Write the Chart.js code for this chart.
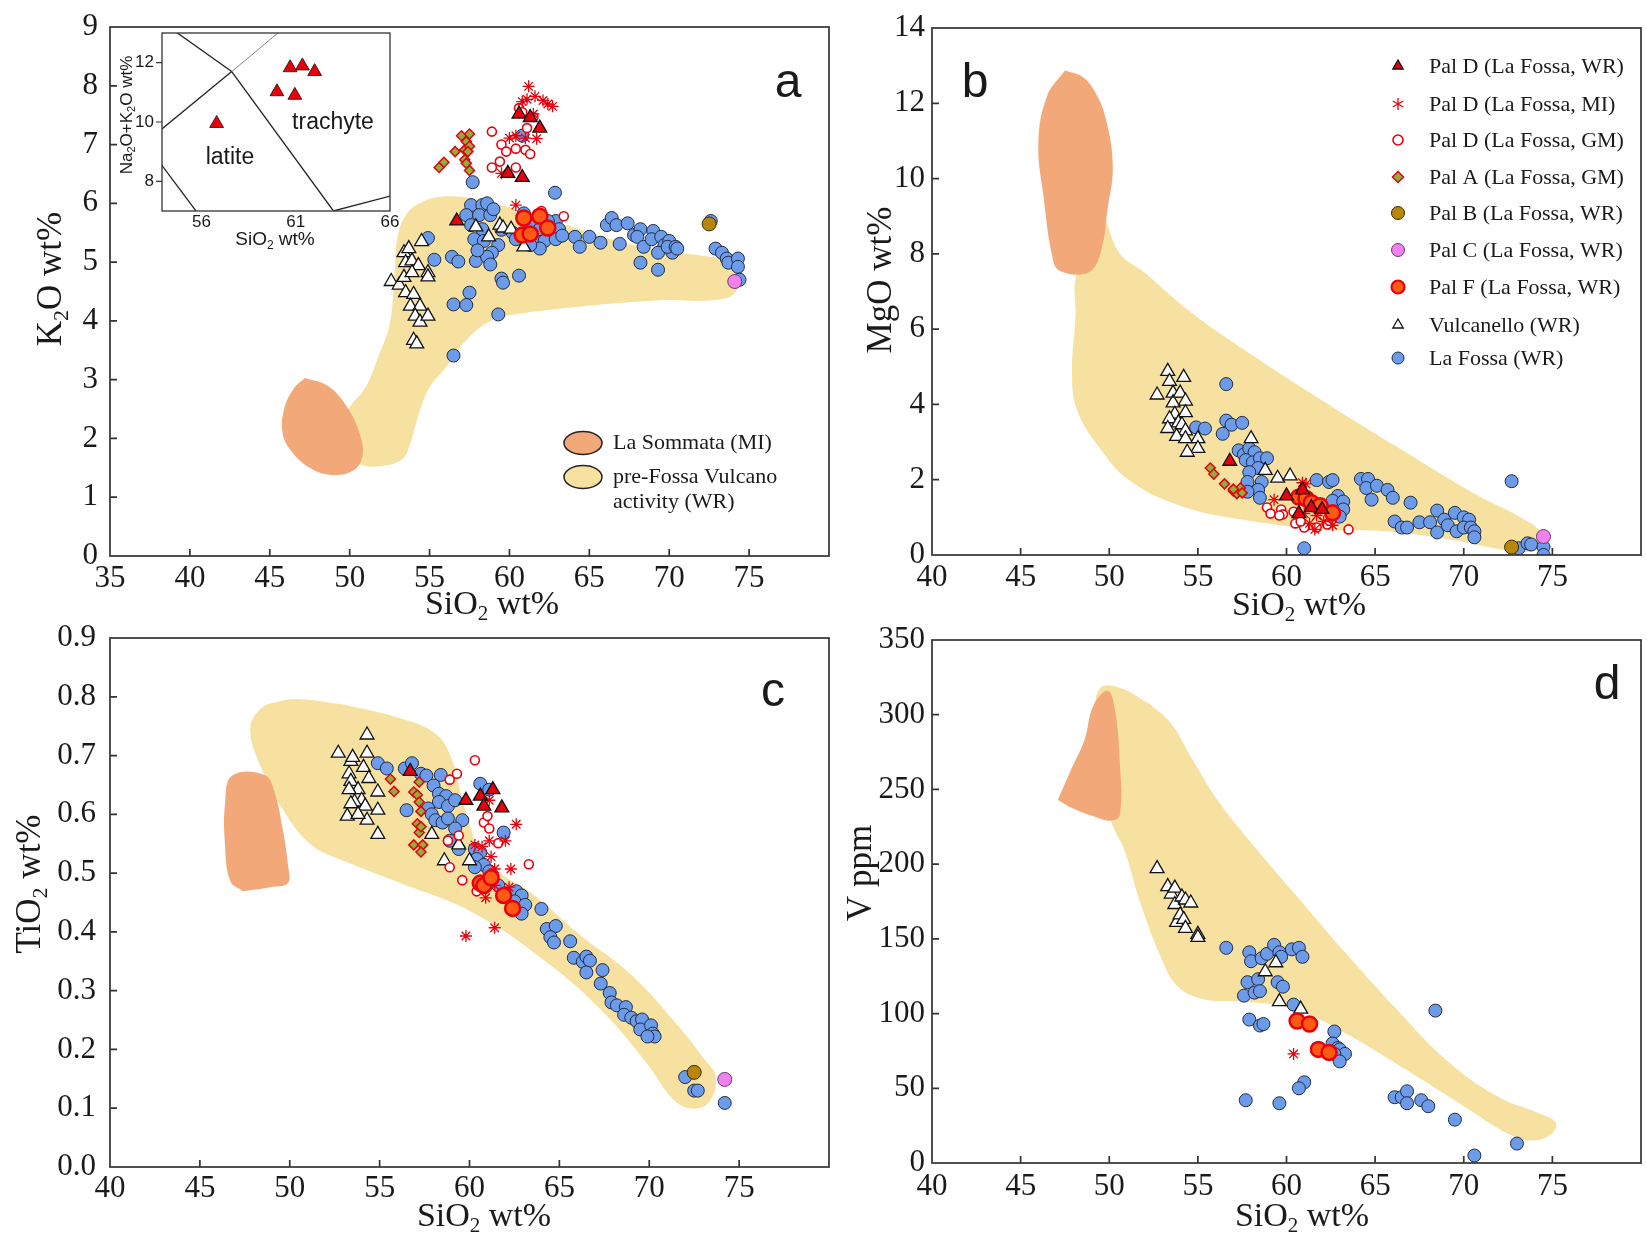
<!DOCTYPE html>
<html>
<head>
<meta charset="utf-8">
<script src="https://cdn.jsdelivr.net/npm/chart.js@4.4.1/dist/chart.umd.min.js"></script>
<style>
    html, body { margin: 0; padding: 0; background: #fff; overflow: hidden; width: 1647px; height: 1238px; }
    canvas { position: absolute; }
    .fontwarm { position: absolute; left: -1000px; top: -1000px; font-size: 30px; }
</style>
</head>
<body>
<span class="fontwarm" style="font-family: 'Liberation Serif'">0123456789 SiO wt%</span>
<span class="fontwarm" style="font-family: 'Liberation Sans'">0123456789 abc</span>
<canvas id="chartA"></canvas>
<canvas id="chartB"></canvas>
<canvas id="chartC"></canvas>
<canvas id="chartD"></canvas>
<canvas id="chartInset"></canvas>
<script>
// ================= DATA : panel a (K2O vs SiO2) =================
const aTicksX = [35, 40, 45, 50, 55, 60, 65, 70, 75];
const aTicksY = [0, 1, 2, 3, 4, 5, 6, 7, 8, 9];

const aFieldPreFossa = [[61.3,4.15],[64.6,4.25],[69.5,4.35],[73.5,4.38],[74.4,4.62],[74.3,5.02],[72.5,5.09],[67.8,5.29],[63.9,5.6],[61.3,5.83],[57.9,6.07],[56.0,6.12],[54.6,6.03],[53.6,5.83],[53.0,5.43],[52.8,4.75],[52.5,3.94],[51.8,3.4],[51.0,2.87],[50.0,2.53],[49.5,2.2],[49.6,1.7],[50.7,1.55],[52.0,1.53],[53.3,1.65],[53.8,1.92],[54.3,2.39],[55.0,2.87],[56.0,3.2],[57.3,3.67],[58.9,4.01],[61.3,4.15]];
const aFieldLaSommata = [[47.2,3.03],[46.5,2.85],[45.9,2.5],[45.8,2.1],[46.3,1.8],[47.5,1.5],[48.8,1.38],[50.2,1.45],[50.8,1.7],[50.6,2.1],[49.8,2.55],[48.6,2.9],[47.2,3.03]];

const aLaFossa = [[57.7,6.36],[62.85,6.18],[57.6,5.97],[58.3,5.97],[58.6,6.0],[57.3,5.8],[58.1,5.8],[58.8,5.8],[57.6,5.63],[58.3,5.56],[57.8,5.39],[58.4,5.36],[59.3,5.29],[58.9,5.16],[57.9,5.02],[58.6,5.09],[58.8,4.96],[59.5,4.72],[59.6,4.65],[60.6,4.77],[57.5,4.48],[56.5,4.28],[57.3,4.27],[59.3,4.11],[56.5,3.41],[55.3,5.04],[54.9,5.41],[56.4,5.09],[56.8,5.01],[59.0,5.9],[59.5,5.55],[60.2,5.5],[58.0,5.2],
    [60.9,5.83],[61.3,5.63],[61.9,5.56],[62.6,5.56],[62.9,5.7],[63.1,5.56],[60.8,5.43],[60.4,5.39],[61.6,5.36],[62.2,5.36],[62.9,5.39],[61.9,5.23],[61.3,5.29],[60.8,7.15],[62.4,5.7],[63.3,5.45],
    [64.1,5.43],[64.4,5.26],[65.0,5.43],[65.7,5.33],[66.1,5.63],[66.4,5.75],[66.7,5.63],[66.9,5.31],[67.4,5.66],[67.8,5.46],[68.2,5.56],[68.0,5.43],[68.4,5.26],[68.2,4.99],[69.0,5.53],[68.9,5.39],[69.5,5.43],[69.7,5.29],[69.3,5.16],[70.0,5.36],[70.2,5.16],[69.9,5.26],[70.4,5.26],[70.5,5.23],[69.3,4.87],
    [72.9,5.23],[73.3,5.16],[73.6,5.06],[73.7,4.99],[74.3,5.06],[74.3,4.92],[74.4,4.7],[72.6,5.7]];
const aVulcanello = [[52.6,4.67],[53.1,4.61],[53.4,5.16],[53.7,5.23],[53.5,4.99],[53.9,5.02],[53.4,4.74],[54.3,4.94],[53.9,4.82],[53.5,4.48],[54.0,4.45],[53.8,4.25],[54.4,4.25],[54.1,4.08],[54.4,3.98],[54.9,4.08],[54.0,3.67],[54.2,3.61],[54.5,5.35],[54.9,4.82],[54.9,4.75],[57.9,5.6],[58.7,5.43],[59.4,5.63],[59.6,5.58],[60.1,5.56],[60.9,5.26]];
const aPalDWR = [[56.7,5.7],[59.9,6.51],[60.8,6.44],[60.6,7.52],[61.3,7.46],[61.9,7.28]];
const aPalDMI = [[61.2,7.99],[60.8,7.73],[61.1,7.77],[61.6,7.82],[62.1,7.75],[62.4,7.69],[62.7,7.65],[61.5,7.52],[60.0,7.11],[60.4,7.15],[61.0,7.11],[61.7,7.1],[59.5,6.51],[60.4,5.97]];
const aPalDGM = [[58.9,7.22],[59.5,7.0],[59.8,6.88],[59.4,6.71],[60.4,6.93],[60.6,7.62],[61.5,7.47],[61.1,7.28],[61.0,6.91],[61.3,6.84],[58.9,6.61],[60.4,6.61],[60.8,7.55],[62.0,5.87],[63.4,5.78]];
const aPalA = [[55.6,6.61],[55.9,6.7],[56.6,6.88],[57.0,7.15],[57.5,7.18],[57.3,7.05],[57.2,6.91],[57.5,6.97],[57.4,6.88],[57.2,6.74],[57.3,6.68],[57.5,6.56]];
const aPalB = [[72.5,5.65]];
const aPalC = [[74.1,4.67]];
const aPalF = [[60.9,5.75],[61.9,5.78],[60.8,5.46],[61.3,5.48],[62.4,5.58]];

// ================= DATA : inset (TAS) =================
const insetTicksX = [56, 61, 66];
const insetTicksY = [8, 10, 12];
const insetPalD = [[56.8,9.95],[60.7,11.83],[61.35,11.89],[62.0,11.7],[60.0,11.02],[60.95,10.9]];
const tasPhonolite = [[52.5,14],[57.6,11.7]];
const tasTrachyandesite = [[53,9.3],[57.6,11.7]];
const tasUpper = [[57.6,11.7],[61,13.5]];
const tasTrachyte = [[57.6,11.7],[63,7]];
const tasDacite = [[63,7],[69,8]];
const tasBasalticTA = [[53,9.3],[57,5.9]];

// ================= DATA : panel b (MgO vs SiO2) =================
const bTicksX = [40, 45, 50, 55, 60, 65, 70, 75];
const bTicksY = [0, 2, 4, 6, 8, 10, 12, 14];

const bFieldLaSommata = [[47.5,12.87],[48.5,12.7],[49.2,12.3],[49.8,11.6],[50.2,10.33],[49.9,9.18],[49.5,8.0],[48.8,7.5],[47.2,7.55],[46.8,7.9],[46.3,9.5],[46.0,10.96],[46.5,12.2],[47.5,12.87]];
const bFieldPreFossa = [[49.8,8.9],[50.6,8.0],[52.0,7.5],[54.6,6.45],[58.1,5.3],[61.9,4.14],[66.2,2.88],[70.6,1.63],[73.2,1.0],[74.5,0.52],[74.3,0.16],[72.9,0.1],[69.1,0.42],[65.6,0.63],[61.9,0.68],[57.5,0.94],[54.0,1.31],[51.1,1.99],[49.4,2.88],[48.2,3.83],[47.9,4.77],[48.1,6.34],[48.2,7.5],[49.4,7.92],[49.8,8.9]];

const bLaFossa = [[56.6,4.54],[56.6,3.57],[56.9,3.46],[56.4,3.22],[54.9,3.39],[55.4,3.36],[57.5,3.51],[57.3,2.78],[57.6,2.67],[57.9,2.83],[58.2,2.73],[57.7,2.52],[58.1,2.46],[58.5,2.57],[58.9,2.57],[58.4,2.31],[57.9,2.2],[57.8,1.94],[58.6,1.94],[58.4,1.73],[57.8,1.68],[58.5,1.52],[61.7,1.99],[62.4,1.94],[62.6,1.99],[62.9,1.57],[62.6,1.44],[63.2,1.42],[63.2,1.21],[63.0,1.02],[64.2,2.02],[64.6,2.02],[64.5,1.78],[65.1,1.84],[65.7,1.73],[66.0,1.52],[64.8,1.47],[67.0,1.39],[66.1,0.89],[66.5,0.73],[66.8,0.73],[67.5,0.87],[68.1,0.87],[68.5,1.18],[68.5,0.6],[68.9,0.94],[69.1,0.79],[69.5,1.12],[69.6,0.63],[70.0,1.0],[70.3,0.94],[70.0,0.73],[70.4,0.73],[70.6,0.63],[70.6,0.47],[72.7,1.96],[73.1,0.18],[73.6,0.31],[73.8,0.28],[74.5,0.21],[74.5,0.0],[61.0,0.18]];
const bVulcanello = [[52.7,4.25],[53.3,4.88],[53.4,4.61],[53.6,4.3],[53.6,4.04],[54.2,4.72],[54.0,4.3],[54.3,4.09],[53.7,3.74],[54.3,3.78],[53.4,3.62],[53.9,3.51],[53.3,3.36],[54.1,3.46],[54.3,3.3],[53.8,3.15],[54.3,3.09],[55.0,3.09],[55.0,2.83],[54.4,2.73],[58.0,3.09],[58.8,2.25],[59.5,2.04],[60.2,2.1]];
const bPalDWR = [[56.8,2.49],[60.0,1.57],[60.9,1.73],[60.7,1.1],[61.4,1.26],[62.0,1.21]];
const bPalDMI = [[59.3,1.47],[60.9,1.92],[61.1,1.89],[61.3,0.84],[61.6,0.68],[62.1,0.89],[62.6,0.79],[61.0,1.1],[61.7,1.05]];
const bPalDGM = [[58.9,1.26],[59.1,1.1],[59.7,1.21],[59.8,1.08],[60.5,0.84],[61.0,0.73],[60.8,0.89],[60.4,1.15],[61.7,0.73],[62.3,0.81],[63.5,0.68],[59.6,1.05]];
const bPalA = [[55.7,2.31],[55.9,2.15],[56.5,1.89],[57.0,1.7],[57.2,1.63],[57.4,1.78],[57.5,1.65],[57.0,1.75]];
const bPalB = [[72.7,0.21]];
const bPalC = [[74.5,0.49]];
const bPalF = [[60.7,1.54],[61.1,1.5],[61.4,1.39],[61.9,1.31],[62.6,1.12]];

// ================= DATA : panel c (TiO2 vs SiO2) =================
const cTicksX = [40, 45, 50, 55, 60, 65, 70, 75];
const cTicksY = [0, 0.1, 0.2, 0.3, 0.4, 0.5, 0.6, 0.7, 0.8, 0.9];

const cFieldLaSommata = [[47.4,0.469],[46.7,0.486],[46.4,0.548],[46.4,0.618],[46.8,0.666],[48.6,0.667],[49.15,0.638],[49.6,0.576],[49.9,0.514],[49.9,0.483],[48.9,0.476],[47.4,0.469]];
const cFieldPreFossa = [[53.0,0.787],[56.2,0.763],[58.2,0.735],[59.1,0.687],[59.5,0.638],[60.0,0.583],[60.6,0.535],[61.7,0.5],[63.5,0.465],[66.1,0.396],[69.0,0.327],[71.7,0.237],[73.1,0.182],[73.7,0.154],[73.4,0.113],[72.5,0.099],[71.4,0.113],[69.9,0.175],[67.6,0.258],[64.6,0.341],[60.3,0.431],[55.9,0.486],[53.0,0.521],[51.2,0.548],[49.7,0.604],[48.4,0.68],[47.8,0.745],[48.4,0.78],[49.4,0.792],[50.6,0.796],[53.0,0.787]];

const cLaFossa = [[54.9,0.687],[55.4,0.678],[56.4,0.678],[56.8,0.687],[56.5,0.607],[57.3,0.669],[57.6,0.666],[58.4,0.667],[58.0,0.649],[58.3,0.635],[58.7,0.631],[58.3,0.621],[58.8,0.614],[59.2,0.624],[57.7,0.61],[57.9,0.6],[58.1,0.59],[58.5,0.586],[58.8,0.593],[59.6,0.59],[59.2,0.576],[58.9,0.555],[59.4,0.541],[60.3,0.541],[60.6,0.535],[60.4,0.524],[60.8,0.514],[60.3,0.51],[61.1,0.503],[60.6,0.652],[61.1,0.642],[61.9,0.569],[61.6,0.479],[62.0,0.465],[62.6,0.469],[62.9,0.462],[62.5,0.452],[63.1,0.446],[62.9,0.431],[64.0,0.439],[64.3,0.405],[64.8,0.41],[64.5,0.391],[64.7,0.382],[65.6,0.384],[65.8,0.356],[66.3,0.349],[66.5,0.358],[66.7,0.351],[66.5,0.331],[67.4,0.335],[67.3,0.312],[67.8,0.296],[67.9,0.28],[68.2,0.275],[68.7,0.272],[68.6,0.259],[69.0,0.254],[69.3,0.248],[69.6,0.251],[69.5,0.234],[70.1,0.241],[70.2,0.227],[70.3,0.222],[69.9,0.222],[72.0,0.153],[72.5,0.13],[72.7,0.13],[74.2,0.109]];
const cVulcanello = [[52.7,0.704],[53.4,0.69],[53.5,0.697],[54.3,0.735],[54.3,0.704],[53.3,0.669],[54.1,0.68],[53.4,0.656],[54.4,0.661],[53.8,0.642],[53.3,0.642],[54.0,0.624],[53.6,0.621],[54.2,0.614],[53.4,0.618],[54.9,0.638],[54.9,0.607],[54.3,0.59],[53.2,0.597],[53.8,0.6],[54.9,0.566],[57.9,0.566],[58.6,0.521],[59.4,0.548],[60.0,0.521]];
const cPalDWR = [[56.7,0.673],[59.8,0.624],[60.6,0.631],[61.3,0.642],[60.8,0.614],[61.8,0.611]];
const cPalDMI = [[61.1,0.624],[60.3,0.548],[60.7,0.545],[61.1,0.555],[62.0,0.555],[62.6,0.583],[61.2,0.528],[61.4,0.507],[62.3,0.507],[61.4,0.479],[60.9,0.458],[62.2,0.476],[59.8,0.393],[61.4,0.407]];
const cPalDGM = [[60.3,0.692],[59.3,0.669],[58.9,0.659],[58.8,0.555],[59.4,0.564],[58.9,0.51],[59.6,0.488],[60.4,0.469],[60.8,0.586],[61.1,0.576],[61.0,0.597],[61.6,0.551],[63.3,0.515]];
const cPalA = [[55.6,0.66],[55.8,0.639],[56.9,0.638],[57.1,0.633],[57.2,0.621],[57.3,0.605],[57.1,0.584],[57.2,0.569],[57.3,0.579],[56.9,0.548],[57.4,0.548],[57.3,0.536],[57.2,0.655]];
const cPalB = [[72.5,0.161]];
const cPalC = [[74.2,0.149]];
const cPalF = [[60.6,0.483],[60.8,0.479],[61.2,0.492],[61.9,0.462],[62.4,0.44]];

// ================= DATA : panel d (V vs SiO2) =================
const dTicksX = [40, 45, 50, 55, 60, 65, 70, 75];
const dTicksY = [0, 50, 100, 150, 200, 250, 300, 350];

const dFieldLaSommata = [[47.1,243],[47.8,262],[48.6,283],[49.1,306],[49.9,316],[50.3,305],[50.6,267],[50.6,233],[50.1,229],[49.1,232],[48.0,237],[47.1,243]];
const dFieldPreFossa = [[52.3,307],[53.5,294],[54.6,272],[56.1,243],[58.1,213],[60.4,181],[63.3,141],[66.2,103],[69.1,68],[72.0,44],[74.3,33],[75.2,27],[74.9,19],[73.9,15],[72.6,19],[70.0,38],[66.8,62],[63.3,87],[60.4,103],[57.5,108],[55.2,110],[53.8,119],[52.9,138],[51.7,176],[50.9,208],[50.1,229],[49.4,267],[49.2,300],[49.5,318],[50.6,318],[52.3,307]];

const dLaFossa = [[56.6,144],[57.9,141],[58.0,135],[58.6,137],[58.9,140],[59.3,146],[59.6,141],[59.7,138],[60.3,143],[60.7,144],[60.9,138],[57.8,121],[58.4,123],[59.5,121],[59.8,118],[57.6,112],[58.2,114],[58.5,115],[60.4,106],[57.9,96],[58.5,92],[58.7,93],[62.7,88],[62.6,80],[62.9,77],[63.0,76],[63.3,73],[62.7,73],[63.0,68],[68.4,102],[61.0,54],[60.7,50],[57.7,42],[59.6,40],[66.1,44],[66.5,44],[66.8,48],[66.8,40],[67.6,42],[68.0,38],[69.5,29],[70.6,5],[73.0,13]];
const dVulcanello = [[52.7,197],[53.3,185],[53.5,180],[53.7,184],[53.7,173],[53.8,161],[54.0,166],[54.1,178],[54.3,176],[54.6,174],[54.2,163],[54.3,157],[55.0,153],[55.0,151],[58.8,128],[59.4,134],[59.6,108],[60.8,103]];
const dPalDMI = [[60.4,73]];
const dPalF = [[60.6,95],[61.3,93],[61.8,76],[62.4,74]];

// ================= STYLES =================
const TEXT = "#1a1a1a";
const FRAME = "#333333";
const SERIF = "Liberation Serif";
const SANS = "Liberation Sans";
const YELLOW = "#f6e1a0";
const ORANGE = "#f2a878";

const STYLES = {
    laFossa:    { ps: "circle",   r: 6.5, bg: "#6b9be9", bc: "#222c44", bw: 1 },
    vulcanello: { ps: "triangle", r: 8,   bg: "#ffffff", bc: "#111111", bw: 1.3 },
    palDWR:     { ps: "triangle", r: 8,   bg: "#e8000c", bc: "#111111", bw: 1.3 },
    palDMI:     { ps: "star",     r: 6,   bg: "#e8000c", bc: "#e8000c", bw: 1.3 },
    palDGM:     { ps: "circle",   r: 4.5, bg: "#ffffff", bc: "#e8000c", bw: 1.6 },
    palA:       { ps: "rectRot",  r: 5,   bg: "#8bb03c", bc: "#e8000c", bw: 1.5 },
    palB:       { ps: "circle",   r: 7,   bg: "#b8860b", bc: "#3a2a00", bw: 1 },
    palC:       { ps: "circle",   r: 7,   bg: "#f280f0", bc: "#6a3a6a", bw: 1 },
    palF:       { ps: "circle",   r: 7.5, bg: "#ff5a14", bc: "#e8000c", bw: 2.5 }
};

// ================= HELPERS =================
function pts(arr) {
    return arr.map(p => ({ x: p[0], y: p[1] }));
}

function series(arr, st, order) {
    return {
        type: "scatter",
        data: pts(arr),
        pointStyle: st.ps,
        pointRadius: st.r,
        pointHoverRadius: st.r,
        backgroundColor: st.bg,
        borderColor: st.bc,
        borderWidth: st.bw,
        order: order
    };
}

function field(arr, color, order) {
    return {
        type: "scatter",
        data: pts(arr),
        showLine: true,
        fill: "shape",
        tension: 0.4,
        backgroundColor: color,
        borderColor: "rgba(0,0,0,0)",
        borderWidth: 0,
        pointRadius: 0,
        order: order
    };
}

function tasLine(arr, color, width) {
    return {
        type: "scatter",
        data: pts(arr),
        showLine: true,
        fill: false,
        borderColor: color,
        borderWidth: width,
        pointRadius: 0,
        order: 5
    };
}

function drawRich(ctx, parts, cx, cy, size, family, rot) {
    ctx.save();
    ctx.translate(cx, cy);
    if (rot) ctx.rotate(rot);
    const main = size + "px \"" + family + "\"";
    const sub = Math.round(size * 0.62) + "px \"" + family + "\"";
    let w = 0;
    parts.forEach(p => { ctx.font = p[1] ? sub : main; w += ctx.measureText(p[0]).width; });
    let x = -w / 2;
    ctx.textBaseline = "middle";
    ctx.textAlign = "left";
    ctx.fillStyle = TEXT;
    parts.forEach(p => {
        ctx.font = p[1] ? sub : main;
        ctx.fillText(p[0], x, p[1] ? size * 0.28 : 0);
        x += ctx.measureText(p[0]).width;
    });
    ctx.restore();
}

function drawMarker(ctx, st, x, y, r) {
    ctx.save();
    ctx.fillStyle = st.bg;
    ctx.strokeStyle = st.bc;
    ctx.lineWidth = st.bw;
    ctx.beginPath();
    if (st.ps === "circle") {
        ctx.arc(x, y, r, 0, Math.PI * 2);
        ctx.fill(); ctx.stroke();
    } else if (st.ps === "triangle") {
        for (let i = 0; i < 3; i++) {
            const a = i * 2 * Math.PI / 3;
            const px = x + Math.sin(a) * r, py = y - Math.cos(a) * r;
            if (i === 0) ctx.moveTo(px, py); else ctx.lineTo(px, py);
        }
        ctx.closePath(); ctx.fill(); ctx.stroke();
    } else if (st.ps === "rectRot") {
        ctx.moveTo(x, y - r); ctx.lineTo(x + r, y); ctx.lineTo(x, y + r); ctx.lineTo(x - r, y);
        ctx.closePath(); ctx.fill(); ctx.stroke();
    } else if (st.ps === "star") {
        for (let i = 0; i < 3; i++) {
            const a = i * Math.PI / 3;
            ctx.moveTo(x + Math.sin(a) * r, y - Math.cos(a) * r);
            ctx.lineTo(x - Math.sin(a) * r, y + Math.cos(a) * r);
        }
        ctx.stroke();
    }
    ctx.restore();
}

const SIO2 = [["SiO", 0], ["2", 1], [" wt%", 0]];

// decoration plugin: frame, inward ticks, tick labels, axis titles, letters, legends
function decoPlugin(cfg) {
    return {
        id: "deco",
        beforeDatasetsDraw(chart) {
            if (!cfg.whiteBg) return;
            const a = chart.chartArea;
            chart.ctx.save();
            chart.ctx.fillStyle = "#ffffff";
            chart.ctx.fillRect(a.left, a.top, a.right - a.left, a.bottom - a.top);
            chart.ctx.restore();
        },
        afterDraw(chart) {
            const ctx = chart.ctx;
            const a = chart.chartArea;
            const sx = chart.scales.x, sy = chart.scales.y;
            const ox = cfg.ox, oy = cfg.oy;

            ctx.save();
            ctx.strokeStyle = FRAME;
            ctx.lineWidth = cfg.frameWidth || 1.7;
            ctx.strokeRect(a.left, a.top, a.right - a.left, a.bottom - a.top);

            ctx.beginPath();
            (cfg.tickX || []).forEach(v => {
                const px = sx.getPixelForValue(v);
                ctx.moveTo(px, a.bottom); ctx.lineTo(px, a.bottom - cfg.tickLen);
            });
            (cfg.tickY || []).forEach(v => {
                const py = sy.getPixelForValue(v);
                ctx.moveTo(a.left, py); ctx.lineTo(a.left + cfg.tickLen, py);
            });
            ctx.stroke();
            ctx.restore();

            // tick labels, placed through the chart's own scales
            const lab = cfg.labels;
            ctx.save();
            ctx.fillStyle = TEXT;
            ctx.font = lab.size + "px \"" + lab.family + "\"";
            ctx.textAlign = "center";
            ctx.textBaseline = "top";
            sx.ticks.forEach(t => {
                ctx.fillText(String(t.value), sx.getPixelForValue(t.value), a.bottom + lab.xpad);
            });
            ctx.textAlign = "right";
            ctx.textBaseline = "middle";
            sy.ticks.forEach(t => {
                const txt = lab.yfmt ? lab.yfmt(t.value) : String(t.value);
                ctx.fillText(txt, a.left - lab.ypad, sy.getPixelForValue(t.value));
            });
            ctx.restore();

            (cfg.texts || []).forEach(t => {
                drawRich(ctx, t.parts, t.x - ox, t.y - oy, t.size, t.family, t.rot || 0);
            });

            if (cfg.extra) cfg.extra(ctx, ox, oy);
        }
    };
}

function scales(xmin, xmax, xticks, ymin, ymax, yticks, yw, xh) {
    return {
        x: {
            type: "linear", min: xmin, max: xmax,
            grid: { display: false, drawTicks: false }, border: { display: false },
            ticks: { display: false },
            afterBuildTicks: s => { s.ticks = xticks.map(v => ({ value: v })); },
            afterFit: s => { s.height = xh; }
        },
        y: {
            type: "linear", min: ymin, max: ymax,
            grid: { display: false, drawTicks: false }, border: { display: false },
            ticks: { display: false },
            afterBuildTicks: s => { s.ticks = yticks.map(v => ({ value: v })); },
            afterFit: s => { s.width = yw; }
        }
    };
}

function makeChart(id, box, padding, datasets, scaleCfg, deco) {
    const canvas = document.getElementById(id);
    canvas.width = box.w;
    canvas.height = box.h;
    canvas.style.left = box.left + "px";
    canvas.style.top = box.top + "px";
    deco.ox = box.left;
    deco.oy = box.top;
    return new Chart(canvas, {
        type: "scatter",
        data: { datasets: datasets },
        options: {
            responsive: false,
            animation: false,
            devicePixelRatio: 1,
            events: [],
            layout: { padding: padding },
            plugins: { legend: { display: false }, tooltip: { enabled: false } },
            scales: scaleCfg
        },
        plugins: [decoPlugin(deco)]
    });
}

function panelSeries(d) {
    const out = [];
    if (d.pre) out.push(field(d.pre, YELLOW, 30));
    if (d.som) out.push(field(d.som, ORANGE, 29));
    if (d.laFossa) out.push(series(d.laFossa, STYLES.laFossa, 10));
    if (d.vulc) out.push(series(d.vulc, STYLES.vulcanello, 9));
    if (d.palA) out.push(series(d.palA, STYLES.palA, 8));
    if (d.palDGM) out.push(series(d.palDGM, STYLES.palDGM, 7));
    if (d.palDMI) out.push(series(d.palDMI, STYLES.palDMI, 6));
    if (d.palB) out.push(series(d.palB, STYLES.palB, 5));
    if (d.palC) out.push(series(d.palC, STYLES.palC, 4));
    if (d.palF) out.push(series(d.palF, STYLES.palF, 3));
    if (d.palDWR) out.push(series(d.palDWR, STYLES.palDWR, 2));
    return out;
}

// ================= LEGENDS =================
const legendB = [
    ["Pal D (La Fossa, WR)", "palDWR", 6],
    ["Pal D (La Fossa, MI)", "palDMI", 6],
    ["Pal D (La Fossa, GM)", "palDGM", 5],
    ["Pal A (La Fossa, GM)", "palA", 5.5],
    ["Pal B (La Fossa, WR)", "palB", 6.5],
    ["Pal C (La Fossa, WR)", "palC", 6.5],
    ["Pal F (La Fossa, WR)", "palF", 6.5],
    ["Vulcanello (WR)", "vulcanello", 6],
    ["La Fossa (WR)", "laFossa", 6]
];
const legendBY = [66, 104, 140, 177, 213, 250, 287, 325, 358];

function drawLegendB(ctx, ox, oy) {
    ctx.save();
    ctx.font = "22px \"" + SERIF + "\"";
    ctx.fillStyle = TEXT;
    ctx.textBaseline = "middle";
    legendB.forEach((item, i) => {
        const st = Object.assign({}, STYLES[item[1]]);
        if (item[1] === "palF") st.bw = 2.2;
        drawMarker(ctx, st, 1398 - ox, legendBY[i] - oy, item[2]);
        ctx.fillText(item[0], 1429 - ox, legendBY[i] - oy + 1);
    });
    ctx.restore();
}

function drawLegendA(ctx, ox, oy) {
    ctx.save();
    const items = [[ORANGE, 443], [YELLOW, 477]];
    items.forEach(it => {
        ctx.beginPath();
        ctx.ellipse(583 - ox, it[1] - oy, 19, 11.5, 0, 0, Math.PI * 2);
        ctx.fillStyle = it[0];
        ctx.fill();
        ctx.strokeStyle = "#222";
        ctx.lineWidth = 1.5;
        ctx.stroke();
    });
    ctx.font = "22px \"" + SERIF + "\"";
    ctx.fillStyle = TEXT;
    ctx.textBaseline = "middle";
    ctx.fillText("La Sommata (MI)", 613 - ox, 443 - oy);
    ctx.fillText("pre-Fossa Vulcano", 613 - ox, 477 - oy);
    ctx.fillText("activity (WR)", 613 - ox, 502 - oy);
    ctx.restore();
}

function letter(ch, x, y) {
    return { parts: [[ch, 0]], x: x, y: y, size: 48, family: SANS };
}

const serifLabels = (xpad, ypad, yfmt) => ({ family: SERIF, size: 31, xpad: xpad, ypad: ypad, yfmt: yfmt });

// ================= BUILD =================
function build() {
    // ---- panel a ----
    makeChart("chartA", { left: 0, top: 0, w: 880, h: 640 },
        { left: 0, top: 27, right: 51, bottom: 0 },
        panelSeries({ pre: aFieldPreFossa, som: aFieldLaSommata, laFossa: aLaFossa, vulc: aVulcanello,
                      palA: aPalA, palDGM: aPalDGM, palDMI: aPalDMI, palB: aPalB, palC: aPalC, palF: aPalF, palDWR: aPalDWR }),
        scales(35, 80, aTicksX, 0, 9, aTicksY, 110, 84),
        {
            labels: serifLabels(7, 12),
            tickX: [40, 45, 50, 55, 60, 65, 70, 75], tickY: [1, 2, 3, 4, 5, 6, 7, 8], tickLen: 7,
            texts: [
                { parts: SIO2, x: 492, y: 605, size: 34, family: SERIF },
                { parts: [["K", 0], ["2", 1], ["O wt%", 0]], x: 52, y: 279, size: 35, family: SERIF, rot: -Math.PI / 2 },
                letter("a", 788, 84)
            ],
            extra: drawLegendA
        });

    // ---- inset (TAS) ----
    makeChart("chartInset", { left: 100, top: 0, w: 330, h: 262 },
        { left: 0, top: 33, right: 40, bottom: 0 },
        [
            tasLine(tasPhonolite, "#222", 1.3),
            tasLine(tasTrachyandesite, "#222", 1.3),
            tasLine(tasUpper, "#777", 0.9),
            tasLine(tasTrachyte, "#222", 1.3),
            tasLine(tasDacite, "#222", 1.3),
            tasLine(tasBasalticTA, "#222", 1.3),
            Object.assign(series(insetPalD, STYLES.palDWR, 1), { pointRadius: 8, borderWidth: 0.8 })
        ],
        scales(53.9, 66, insetTicksX, 7, 13, insetTicksY, 62, 51),
        {
            labels: { family: SANS, size: 17, xpad: 3, ypad: 8 },
            whiteBg: true, frameWidth: 1.3, tickLen: 0,
            texts: [
                { parts: SIO2, x: 275, y: 240, size: 19, family: SANS },
                { parts: [["Na", 0], ["2", 1], ["O+K", 0], ["2", 1], ["O wt%", 0]], x: 127, y: 115, size: 17, family: SANS, rot: -Math.PI / 2 },
                { parts: [["latite", 0]], x: 230, y: 158, size: 23, family: SANS },
                { parts: [["trachyte", 0]], x: 333, y: 123, size: 23, family: SANS }
            ],
            extra: (ctx, ox, oy) => {
                ctx.save();
                ctx.strokeStyle = "#333";
                ctx.lineWidth = 1.2;
                ctx.beginPath();
                [12, 10, 8].forEach(v => {
                    const py = 211 - (v - 7) / 6 * 178 - oy;
                    ctx.moveTo(162 - ox, py); ctx.lineTo(156 - ox, py);
                });
                ctx.stroke();
                ctx.restore();
            }
        });

    // ---- panel b ----
    makeChart("chartB", { left: 840, top: 0, w: 811, h: 640 },
        { left: 0, top: 28, right: 0, bottom: 0 },
        panelSeries({ pre: bFieldPreFossa, som: bFieldLaSommata, laFossa: bLaFossa, vulc: bVulcanello,
                      palA: bPalA, palDGM: bPalDGM, palDMI: bPalDMI, palB: bPalB, palC: bPalC, palF: bPalF, palDWR: bPalDWR }),
        scales(40, 80, bTicksX, 0, 14, bTicksY, 92, 85),
        {
            labels: serifLabels(7, 7),
            tickX: [45, 50, 55, 60, 65, 70, 75], tickY: [2, 4, 6, 8, 10, 12], tickLen: 7,
            texts: [
                { parts: SIO2, x: 1299, y: 606, size: 34, family: SERIF },
                { parts: [["MgO wt%", 0]], x: 882, y: 280, size: 35, family: SERIF, rot: -Math.PI / 2 },
                letter("b", 975, 84)
            ],
            extra: drawLegendB
        });

    // ---- panel c ----
    makeChart("chartC", { left: 0, top: 590, w: 880, h: 648 },
        { left: 0, top: 48, right: 51, bottom: 0 },
        panelSeries({ pre: cFieldPreFossa, som: cFieldLaSommata, laFossa: cLaFossa, vulc: cVulcanello,
                      palA: cPalA, palDGM: cPalDGM, palDMI: cPalDMI, palB: cPalB, palC: cPalC, palF: cPalF, palDWR: cPalDWR }),
        scales(40, 80, cTicksX, 0, 0.9, cTicksY, 110, 71),
        {
            labels: serifLabels(6, 14, v => Number(v).toFixed(1)),
            tickX: [45, 50, 55, 60, 65, 70, 75], tickY: [0.1, 0.2, 0.3, 0.4, 0.5, 0.6, 0.7, 0.8], tickLen: 7,
            texts: [
                { parts: SIO2, x: 484, y: 1217, size: 34, family: SERIF },
                { parts: [["TiO", 0], ["2", 1], [" wt%", 0]], x: 31, y: 884, size: 35, family: SERIF, rot: -Math.PI / 2 },
                letter("c", 773, 693)
            ]
        });

    // ---- panel d ----
    makeChart("chartD", { left: 840, top: 590, w: 811, h: 648 },
        { left: 0, top: 50, right: 0, bottom: 0 },
        panelSeries({ pre: dFieldPreFossa, som: dFieldLaSommata, laFossa: dLaFossa, vulc: dVulcanello,
                      palDMI: dPalDMI, palF: dPalF }),
        scales(40, 80, dTicksX, 0, 350, dTicksY, 92, 75),
        {
            labels: serifLabels(8, 7),
            tickX: [45, 50, 55, 60, 65, 70, 75], tickY: [50, 100, 150, 200, 250, 300], tickLen: 7,
            texts: [
                { parts: SIO2, x: 1302, y: 1217, size: 34, family: SERIF },
                { parts: [["V ppm", 0]], x: 862, y: 873, size: 35, family: SERIF, rot: -Math.PI / 2 },
                letter("d", 1607, 686)
            ]
        });
}

document.addEventListener("DOMContentLoaded", () => {
    if (document.fonts && document.fonts.load) {
        Promise.all([
            document.fonts.load("30px \"Liberation Serif\""),
            document.fonts.load("20px \"Liberation Sans\"")
        ]).then(build, build);
    } else {
        build();
    }
});
</script>
</body>
</html>
